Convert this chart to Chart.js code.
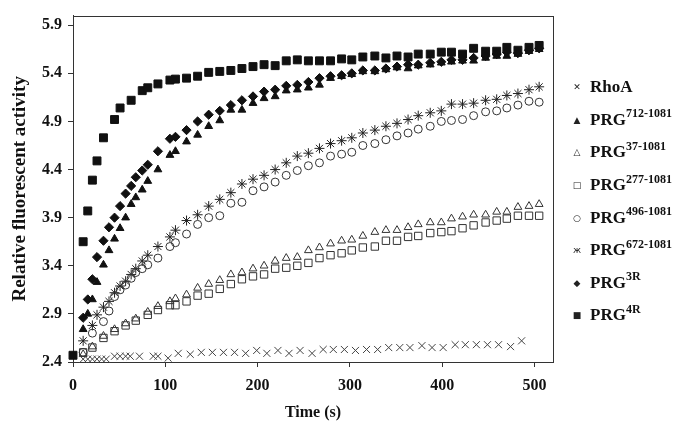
<!DOCTYPE html>
<html>
<head>
<meta charset="utf-8">
<script src="https://cdn.jsdelivr.net/npm/chart.js@4.4.0/dist/chart.umd.min.js"></script>
<style>
  html, body { margin: 0; padding: 0; background: #fff; }
  #wrap { position: relative; width: 685px; height: 430px; }
  #legend { position: absolute; left: 570px; top: 71px; font-family: "Liberation Serif", serif; font-weight: bold; font-size: 17px; color: #111; }
  .item { height: 32.6px; display: flex; align-items: center; white-space: nowrap; }
  .mk { display: inline-block; width: 14px; margin-right: 6px; text-align: center; font-family: "DejaVu Sans", sans-serif; font-size: 9px; font-weight: normal; color: #222; }
  .sup { font-size: 12px; position: relative; top: -6px; }
</style>
</head>
<body>
<div id="wrap">
  <canvas id="chart" width="685" height="430"></canvas>
  <div id="legend"></div>
</div>
<script>
// time points (s) shared by the PRG curves
var timeS = [0, 5, 11, 16, 21, 26, 33, 39, 45, 51, 57, 63, 68, 75, 81, 92, 105, 111,
  123, 135, 147, 159, 171, 183, 195, 207, 219, 231, 243, 255, 267, 279, 291, 302, 314, 327,
  339, 351, 363, 374, 387, 399, 410, 422, 434, 447, 459, 470, 482, 494, 505];

var prg4R = [2.47, null, 3.65, 3.97, 4.29, 4.49, 4.73, null, 4.92, 5.04, null, 5.12, null, 5.22, 5.25, 5.29, 5.33, 5.34,
  5.35, 5.37, 5.41, 5.42, 5.43, 5.45, 5.47, 5.49, 5.48, 5.53, 5.54, 5.53, 5.53, 5.53, 5.55, 5.54, 5.57, 5.58,
  5.56, 5.58, 5.57, 5.60, 5.60, 5.62, 5.62, 5.60, 5.66, 5.63, 5.63, 5.67, 5.64, 5.67, 5.69];
var prg3R = [null, null, 2.86, 3.05, 3.26, 3.49, 3.66, 3.80, 3.90, 4.02, 4.15, 4.23, 4.32, 4.39, 4.45, 4.59, 4.72, 4.74,
  4.81, 4.90, 4.97, 5.01, 5.07, 5.12, 5.16, 5.21, 5.23, 5.27, 5.28, 5.31, 5.35, 5.37, 5.38, 5.40, 5.43, 5.43,
  5.45, 5.47, 5.49, 5.49, 5.51, 5.52, 5.54, 5.54, 5.56, 5.58, 5.60, 5.62, 5.61, 5.64, 5.66];
var prg712 = [null, null, 2.74, 2.90, 3.05, 3.23, 3.41, 3.56, 3.68, 3.79, 3.90, 4.04, 4.11, 4.19, 4.28, 4.40, 4.55, 4.59,
  4.69, 4.76, 4.85, 4.91, 5.02, 5.02, 5.09, 5.14, 5.16, 5.22, 5.23, 5.25, 5.28, 5.35, 5.37, 5.39, 5.42, 5.42,
  5.44, 5.46, 5.45, 5.48, 5.49, 5.51, 5.52, 5.53, 5.53, 5.56, 5.58, 5.58, 5.60, 5.63, 5.65];
var prg672 = [null, null, 2.62, null, 2.78, 2.89, 2.97, 3.03, 3.12, 3.19, 3.24, 3.31, 3.37, 3.45, 3.51, 3.60, 3.70, 3.77,
  3.87, 3.93, 4.02, 4.09, 4.16, 4.25, 4.30, 4.34, 4.40, 4.47, 4.54, 4.57, 4.62, 4.67, 4.70, 4.73, 4.78, 4.81,
  4.85, 4.88, 4.92, 4.96, 4.99, 5.01, 5.08, 5.08, 5.09, 5.12, 5.13, 5.17, 5.19, 5.23, 5.26];
var prg496 = [null, null, 2.50, null, 2.70, null, 2.82, 2.93, 3.08, 3.15, 3.20, 3.27, 3.33, 3.37, 3.41, 3.48, 3.60, 3.64,
  3.73, 3.83, 3.90, 3.92, 4.05, 4.06, 4.18, 4.22, 4.27, 4.34, 4.39, 4.44, 4.47, 4.54, 4.56, 4.58, 4.65, 4.67,
  4.71, 4.75, 4.78, 4.82, 4.85, 4.90, 4.91, 4.92, 4.96, 5.00, 5.01, 5.04, 5.07, 5.11, 5.10];
var prg37 = [null, null, 2.48, null, 2.56, null, 2.67, null, 2.74, null, 2.80, null, 2.85, null, 2.92, 2.98, 3.03, 3.06,
  3.10, 3.17, 3.21, 3.25, 3.31, 3.33, 3.37, 3.40, 3.45, 3.48, 3.49, 3.56, 3.59, 3.63, 3.66, 3.67, 3.71, 3.75,
  3.77, 3.77, 3.80, 3.83, 3.85, 3.85, 3.89, 3.91, 3.93, 3.93, 3.96, 3.96, 4.01, 4.02, 4.04];
var prg277 = [null, null, 2.50, null, 2.55, null, 2.65, null, 2.72, null, 2.78, null, 2.83, null, 2.89, 2.94, 2.99, 2.99,
  3.03, 3.09, 3.11, 3.16, 3.21, 3.26, 3.29, 3.31, 3.37, 3.38, 3.40, 3.43, 3.48, 3.51, 3.53, 3.56, 3.59, 3.60,
  3.66, 3.66, 3.70, 3.71, 3.74, 3.75, 3.76, 3.79, 3.82, 3.85, 3.87, 3.89, 3.92, 3.92, 3.92];

var rhoaTime = [11, 16, 21, 26, 31, 36, 45, 51, 57, 62, 72, 87, 92, 103, 114, 127, 139, 151, 163, 175, 187, 199,
  210, 222, 234, 246, 259, 271, 282, 294, 306, 318, 330, 342, 354, 365, 378, 389, 401, 414, 425, 437, 449, 461, 474, 486];
var rhoA = [2.43, 2.43, 2.43, 2.43, 2.43, 2.43, 2.46, 2.46, 2.46, 2.46, 2.46, 2.46, 2.46, 2.44, 2.49, 2.48, 2.50, 2.50, 2.50, 2.50, 2.49, 2.52,
  2.49, 2.52, 2.49, 2.52, 2.49, 2.53, 2.53, 2.53, 2.52, 2.53, 2.53, 2.55, 2.55, 2.55, 2.57, 2.55, 2.55, 2.58, 2.58, 2.58, 2.58, 2.58, 2.56, 2.62];

var xTicks = [0, 100, 200, 300, 400, 500];
var yTicks = [2.4, 2.9, 3.4, 3.9, 4.4, 4.9, 5.4, 5.9];

var legendNames = ['RhoA', 'PRG', 'PRG', 'PRG', 'PRG', 'PRG', 'PRG', 'PRG'];
var legendSups = ['', '712-1081', '37-1081', '277-1081', '496-1081', '672-1081', '3R', '4R'];
var legendMarks = ['\u2715', '\u25B2', '\u25B3', '\u25A1', '\u25CB', '\u0436', '\u25C6', '\u25A0'];

function pts(times, vals) {
  var out = [];
  for (var i = 0; i < times.length; i++) {
    if (vals[i] !== null) out.push({x: times[i], y: vals[i]});
  }
  return out;
}

function ds(label, times, vals, style, r, filled, col) {
  return {
    label: label,
    data: pts(times, vals),
    pointStyle: style,
    pointRadius: r,
    pointHoverRadius: r,
    pointBorderWidth: 1,
    pointBorderColor: col,
    pointBackgroundColor: filled ? col : 'rgba(0,0,0,0)',
    showLine: false,
    clip: false
  };
}

var framePlugin = {
  id: 'frame',
  beforeDatasetsDraw: function(chart) {
    var a = chart.chartArea, ctx = chart.ctx;
    ctx.save();
    ctx.strokeStyle = '#333';
    ctx.lineWidth = 1;
    ctx.strokeRect(Math.round(a.left) + 0.5, Math.round(a.top) + 0.5, Math.round(a.right - a.left), Math.round(a.bottom - a.top));
    ctx.restore();
  }
};

var font = 'Liberation Serif';
var ctx = document.getElementById('chart').getContext('2d');
var myChart = new Chart(ctx, {
  type: 'scatter',
  data: {
    datasets: [
      ds('RhoA', rhoaTime, rhoA, 'crossRot', 5, false, '#444'),
      ds('PRG712-1081', timeS, prg712, 'triangle', 4.5, true, '#111'),
      ds('PRG37-1081', timeS, prg37, 'triangle', 4.5, false, '#333'),
      ds('PRG277-1081', timeS, prg277, 'rect', 5.2, false, '#333'),
      ds('PRG496-1081', timeS, prg496, 'circle', 4, false, '#333'),
      ds('PRG672-1081', timeS, prg672, 'star', 5, false, '#222'),
      ds('PRG3R', timeS, prg3R, 'rectRot', 4.6, true, '#111'),
      ds('PRG4R', timeS, prg4R, 'rect', 5.6, true, '#111')
    ]
  },
  options: {
    responsive: false,
    animation: false,
    layout: { padding: { left: 0, right: 132, top: 15, bottom: 0 } },
    plugins: { legend: { display: false }, tooltip: { enabled: false } },
    scales: {
      x: {
        type: 'linear',
        min: 0,
        max: 520,
        afterBuildTicks: function(axis) { axis.ticks = xTicks.map(function(v) { return {value: v}; }); },
        afterFit: function(axis) { axis.height = 68; },
        grid: { drawOnChartArea: false, drawTicks: true, tickLength: 5, color: '#333' },
        border: { display: true, color: '#333' },
        ticks: { color: '#111', padding: 9, maxRotation: 0, font: { family: font, size: 16, weight: 'bold' } },
        title: { display: true, text: 'Time (s)', color: '#111', padding: 8, font: { family: font, size: 16, weight: 'bold' } }
      },
      y: {
        type: 'linear',
        min: 2.4,
        max: 6.0,
        afterBuildTicks: function(axis) { axis.ticks = yTicks.map(function(v) { return {value: v}; }); },
        afterFit: function(axis) { axis.width = 73; },
        grid: { drawOnChartArea: false, drawTicks: true, tickLength: 5, color: '#333' },
        border: { display: true, color: '#333' },
        ticks: { color: '#111', padding: 6, callback: function(v) { return Number(v).toFixed(1); }, font: { family: font, size: 16, weight: 'bold' } },
        title: { display: true, text: 'Relative fluorescent activity', color: '#111', padding: 9, font: { family: font, size: 19, weight: 'bold' } }
      }
    }
  },
  plugins: [framePlugin]
});

var legend = document.getElementById('legend');
for (var i = 0; i < legendNames.length; i++) {
  var row = document.createElement('div');
  row.className = 'item';
  row.innerHTML = '<span class="mk">' + legendMarks[i] + '</span>' + legendNames[i] +
    (legendSups[i] ? '<span class="sup">' + legendSups[i] + '</span>' : '');
  legend.appendChild(row);
}
</script>
</body>
</html>
